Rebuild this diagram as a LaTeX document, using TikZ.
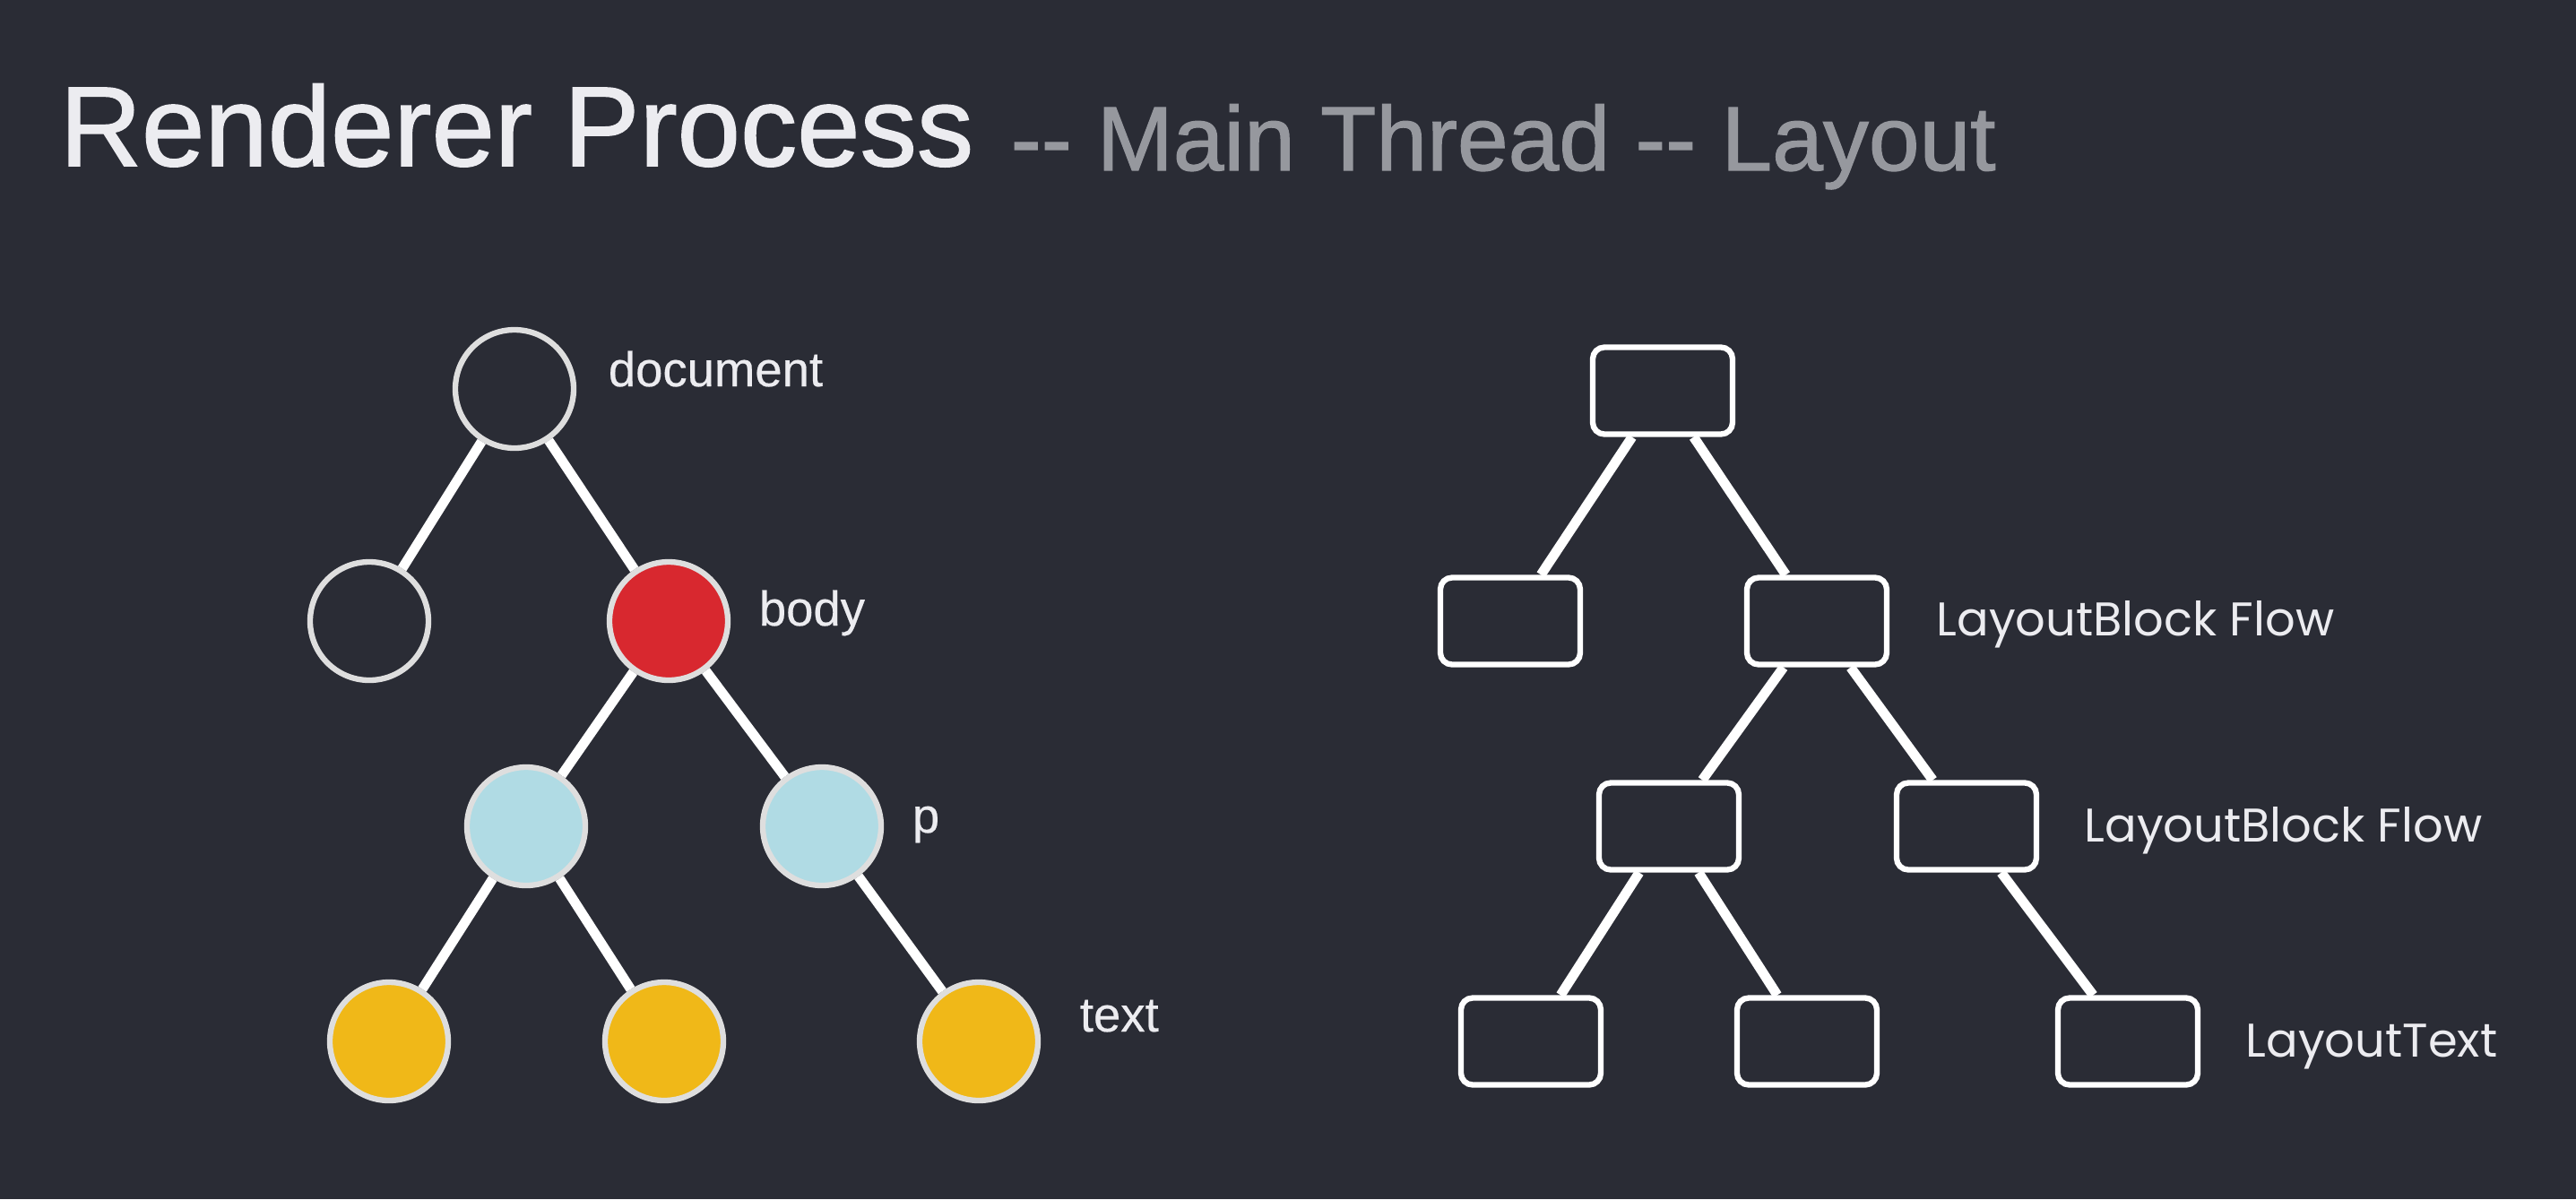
\documentclass[tikz,border=0pt]{standalone}
\usepackage{fontspec}
\setmainfont{Liberation Sans}
\newfontfamily\titlefont{Liberation Sans}[FakeBold=1.2]
\newfontfamily\domfont{Liberation Sans}[FakeBold=0.4]
\newfontfamily\layfont{Poppins}
\usetikzlibrary{positioning}

\definecolor{bgdark}{RGB}{42,44,53}
\definecolor{titlewhite}{RGB}{236,236,240}
\definecolor{titlegray}{RGB}{150,152,158}
\definecolor{bodyred}{RGB}{216,40,47}
\definecolor{pblue}{RGB}{176,219,228}
\definecolor{textyellow}{RGB}{240,184,24}
\definecolor{ringgray}{RGB}{222,222,222}

\begin{document}
\begin{tikzpicture}[on grid,
    dom/.style={draw=ringgray, line width=1.8pt, circle, minimum size=1.32cm, inner sep=0pt},
    lay/.style={draw=white, line width=1.8pt, rounded corners=0.13cm, minimum width=1.56cm, minimum height=0.97cm, inner sep=0pt},
    link/.style={draw=white, line width=3.1pt},
    lbl/.style={text=titlewhite, font=\domfont\fontsize{15.5}{18}\selectfont, anchor=base west, inner sep=0pt},
    laylbl/.style={text=titlewhite, font=\layfont\fontsize{15}{18}\selectfont, anchor=base west, inner sep=0pt}]

    \fill[bgdark] (0,0) rectangle (28.74,-13.38);

    \node[anchor=base west, inner sep=0pt, text=titlewhite, font=\titlefont\fontsize{36}{40}\selectfont] (title) at (0.66,-1.85) {Renderer Process};
    \node[anchor=base west, inner sep=0pt, text=titlegray, font=\titlefont\fontsize{29}{32}\selectfont] (subtitle) at ([xshift=0.40cm, yshift=-0.05cm]title.base east) {-\kern0pt- Main Thread -\kern0pt- Layout};

    % albero DOM
    \node[dom] (doc) at (5.74,-4.34) {};
    \node[dom, below left=2.59cm and 1.62cm of doc] (head) {};
    \node[dom, fill=bodyred, below right=2.59cm and 1.72cm of doc] (body) {};
    \node[dom, fill=pblue, below left=2.29cm and 1.59cm of body] (p1) {};
    \node[dom, fill=pblue, below right=2.29cm and 1.71cm of body] (p2) {};
    \node[dom, fill=textyellow, below left=2.40cm and 1.53cm of p1] (t1) {};
    \node[dom, fill=textyellow, below right=2.40cm and 1.54cm of p1] (t2) {};
    \node[dom, fill=textyellow, below right=2.40cm and 1.75cm of p2] (t3) {};

    \draw[link] (doc) -- (head);
    \draw[link] (doc) -- (body);
    \draw[link] (body) -- (p1);
    \draw[link] (body) -- (p2);
    \draw[link] (p1) -- (t1);
    \draw[link] (p1) -- (t2);
    \draw[link] (p2) -- (t3);

    \node[lbl] (doctxt) at ([xshift=0.35cm, yshift=0.03cm]doc.east) {document};
    \node[lbl] (bodytxt) at ([xshift=0.31cm, yshift=-0.05cm]body.east) {body};
    \node[lbl] (ptxt) at ([xshift=0.31cm, yshift=-0.07cm]p2.east) {p};
    \node[lbl] (texttxt) at ([xshift=0.43cm, yshift=0.11cm]t3.east) {text};

    % albero di layout
    \node[lay] (lroot) at (18.55,-4.36) {};
    \node[lay, below left=2.57cm and 1.70cm of lroot] (lhead) {};
    \node[lay, below right=2.57cm and 1.72cm of lroot] (lbody) {};
    \node[lay, below left=2.29cm and 1.65cm of lbody] (lp1) {};
    \node[lay, below right=2.29cm and 1.67cm of lbody] (lp2) {};
    \node[lay, below left=2.40cm and 1.54cm of lp1] (lt1) {};
    \node[lay, below right=2.40cm and 1.54cm of lp1] (lt2) {};
    \node[lay, below right=2.40cm and 1.80cm of lp2] (lt3) {};

    \draw[link] (lroot) -- (lhead);
    \draw[link] (lroot) -- (lbody);
    \draw[link] (lbody) -- (lp1);
    \draw[link] (lbody) -- (lp2);
    \draw[link] (lp1) -- (lt1);
    \draw[link] (lp1) -- (lt2);
    \draw[link] (lp2) -- (lt3);

    \node[laylbl] (lbodytxt) at ([xshift=0.52cm, yshift=-0.16cm]lbody.east) {LayoutBlock Flow};
    \node[laylbl] (lptxt) at ([xshift=0.50cm, yshift=-0.17cm]lp2.east) {LayoutBlock Flow};
    \node[laylbl] (ltexttxt) at ([xshift=0.50cm, yshift=-0.17cm]lt3.east) {LayoutText};

\end{tikzpicture}
\end{document}
